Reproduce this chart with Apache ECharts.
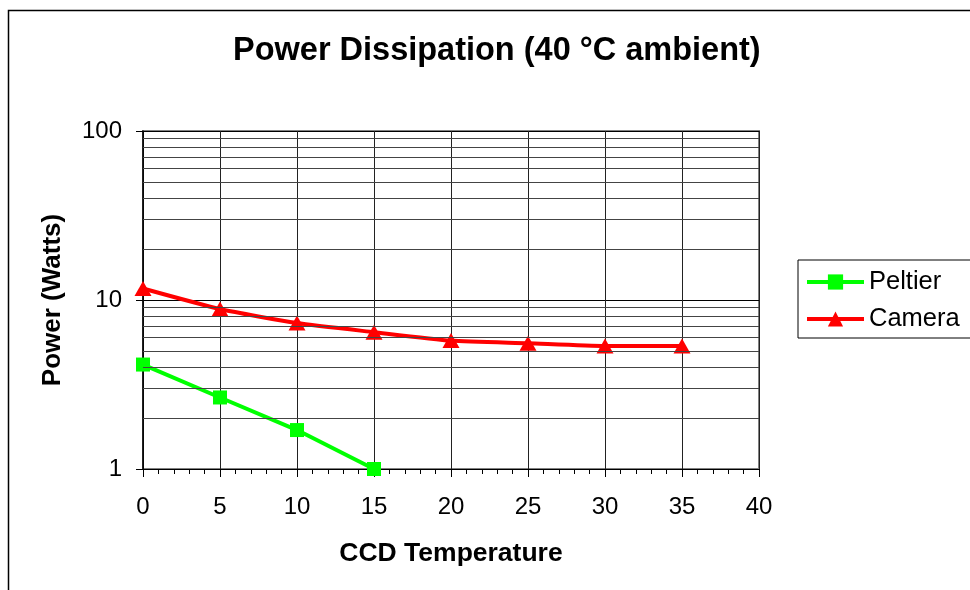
<!DOCTYPE html>
<html>
<head>
<meta charset="utf-8">
<script src="https://cdn.jsdelivr.net/npm/echarts@6/dist/echarts.min.js"></script>
<style>html,body{margin:0;padding:0;background:#fff}#c{width:970px;height:590px}</style>
</head>
<body>
<div id="c"></div>
<script>
const temps = [0, 5, 10, 15, 20, 25, 30, 35];
const peltier = [4.15, 2.65, 1.7, 1.0];
const camera = [11.7, 8.85, 7.3, 6.45, 5.75, 5.55, 5.35, 5.35];
const minorGrid = [2, 3, 4, 5, 6, 7, 8, 9, 20, 30, 40, 50, 60, 70, 80, 90];
const seriesNames = ['Peltier', 'Camera'];
const titleText = 'Power Dissipation (40 °C ambient)';
const xName = 'CCD Temperature';
const yName = 'Power (Watts)';

const FONT = 'Arial, "Liberation Sans", sans-serif';
const chart = echarts.init(document.getElementById('c'), null, {renderer: 'canvas'});
chart.setOption({
  animation: false,
  backgroundColor: '#fff',
  title: {
    text: titleText, left: 233, top: 35, padding: 0,
    textStyle: {fontFamily: FONT, fontSize: 32.5, fontWeight: 'bold', color: '#000'}
  },
  graphic: [{
    type: 'rect', shape: {x: 8.5, y: 10.5, width: 1000, height: 700},
    style: {fill: 'none', stroke: '#000', lineWidth: 1.5}, silent: true, z: -1
  }],
  legend: {
    data: seriesNames, orient: 'vertical', left: 798, top: 260,
    borderColor: '#000', borderWidth: 1, padding: [9, 30, 6, 7],
    itemWidth: 57, itemHeight: 19, itemGap: 11,
    lineStyle: {width: 4},
    textStyle: {fontFamily: FONT, fontSize: 25.5, color: '#000'}
  },
  grid: {left: 143, top: 131, width: 616, height: 338, show: true,
         borderColor: '#808080', borderWidth: 2, backgroundColor: 'transparent'},
  xAxis: {
    type: 'value', min: 0, max: 40, interval: 5,
    name: xName, nameLocation: 'middle', nameGap: 71,
    nameTextStyle: {fontFamily: FONT, fontSize: 26.5, fontWeight: 'bold', color: '#000'},
    axisLine: {show: true, lineStyle: {color: '#000', width: 1}},
    axisTick: {show: true, length: 8, lineStyle: {color: '#000'}},
    minorTick: {show: true, splitNumber: 5, length: 5, lineStyle: {color: '#000'}},
    axisLabel: {fontFamily: FONT, fontSize: 24, color: '#000', margin: 26},
    splitLine: {show: true, lineStyle: {color: '#222', width: 1}}
  },
  yAxis: {
    type: 'log', logBase: 10, min: 1, max: 100,
    name: yName, nameLocation: 'middle', nameGap: 77,
    nameTextStyle: {fontFamily: FONT, fontSize: 26, fontWeight: 'bold', color: '#000'},
    axisLine: {show: true, lineStyle: {color: '#000', width: 1.5}},
    axisTick: {show: true, length: 7, lineStyle: {color: '#000'}},
    axisLabel: {fontFamily: FONT, fontSize: 24, color: '#000', margin: 21},
    splitLine: {show: true, lineStyle: {color: '#000', width: 1}}
  },
  series: [
    {
      name: 'grid-minor', type: 'line', data: [], silent: true, z: 1,
      markLine: {
        silent: true, symbol: ['none', 'none'], label: {show: false},
        lineStyle: {color: '#444', width: 1, type: 'solid'},
        emphasis: {disabled: true},
        data: minorGrid.map(v => ({yAxis: v}))
      }
    },
    {
      name: seriesNames[0], type: 'line', z: 3,
      data: peltier.map((v, i) => [temps[i], v]),
      symbol: 'rect', symbolSize: 14,
      lineStyle: {color: '#00ff00', width: 4},
      itemStyle: {color: '#00ff00'}
    },
    {
      name: seriesNames[1], type: 'line', z: 3, smooth: 0.2,
      data: camera.map((v, i) => [temps[i], v]),
      symbol: 'triangle', symbolSize: [17, 15],
      lineStyle: {color: '#ff0000', width: 4},
      itemStyle: {color: '#ff0000'}
    }
  ]
});
</script>
</body>
</html>
